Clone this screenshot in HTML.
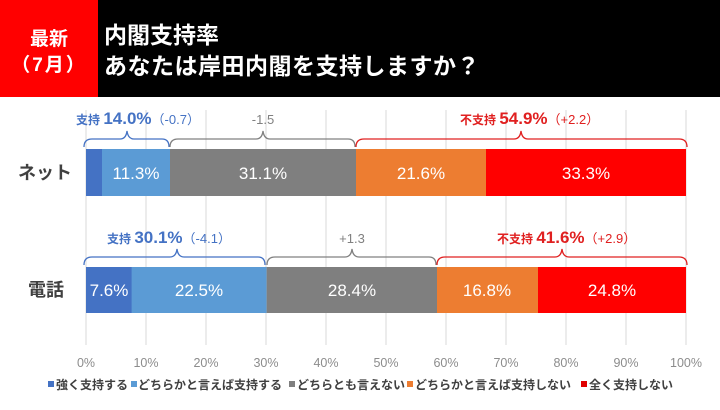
<!DOCTYPE html>
<html><head><meta charset="utf-8"><style>
body{margin:0;width:720px;height:405px;overflow:hidden;background:#fff;font-family:"Liberation Sans","Noto Sans CJK JP",sans-serif}
</style></head><body>
<svg width="720" height="405" xmlns="http://www.w3.org/2000/svg" font-family="Liberation Sans, Noto Sans CJK JP, sans-serif">
<rect x="0" y="0" width="720" height="97" fill="#000"/>
<rect x="0" y="0" width="98" height="97" fill="#f00"/>
<text x="49" y="45" fill="#fff" font-size="19" font-weight="bold" text-anchor="middle">最新</text>
<text x="49" y="71" fill="#fff" font-size="19" font-weight="bold" text-anchor="middle" letter-spacing="2">（7月）</text>
<text x="104" y="43" fill="#fff" font-size="23" font-weight="bold">内閣支持率</text>
<text x="104" y="74" fill="#fff" font-size="23" font-weight="bold" letter-spacing="0.5">あなたは岸田内閣を支持しますか？</text>
<g stroke="#d9d9d9" stroke-width="1">
<line x1="86" y1="110" x2="86" y2="345"/><line x1="146" y1="110" x2="146" y2="345"/><line x1="206" y1="110" x2="206" y2="345"/><line x1="266" y1="110" x2="266" y2="345"/><line x1="326" y1="110" x2="326" y2="345"/><line x1="386" y1="110" x2="386" y2="345"/><line x1="446" y1="110" x2="446" y2="345"/><line x1="506" y1="110" x2="506" y2="345"/><line x1="566" y1="110" x2="566" y2="345"/><line x1="626" y1="110" x2="626" y2="345"/><line x1="686" y1="110" x2="686" y2="345"/>
</g>
<rect x="86" y="149" width="16" height="47" fill="#4472c4"/>
<rect x="102" y="149" width="68" height="47" fill="#5b9bd5"/>
<rect x="170" y="149" width="186" height="47" fill="#7f7f7f"/>
<rect x="356" y="149" width="130" height="47" fill="#ed7d31"/>
<rect x="486" y="149" width="200" height="47" fill="#ff0000"/>
<g fill="#fff" font-size="17" text-anchor="middle">
<text x="136" y="179">11.3%</text><text x="263" y="179">31.1%</text><text x="421" y="179">21.6%</text><text x="586" y="179">33.3%</text>
</g>
<rect x="86" y="267" width="46" height="46" fill="#4472c4"/>
<rect x="131.6" y="267" width="135" height="46" fill="#5b9bd5"/>
<rect x="266.6" y="267" width="170.4" height="46" fill="#7f7f7f"/>
<rect x="437" y="267" width="101" height="46" fill="#ed7d31"/>
<rect x="538" y="267" width="148" height="46" fill="#ff0000"/>
<g fill="#fff" font-size="17" text-anchor="middle">
<text x="109" y="296">7.6%</text><text x="199" y="296">22.5%</text><text x="352" y="296">28.4%</text><text x="487" y="296">16.8%</text><text x="612" y="296">24.8%</text>
</g>
<text x="18" y="179" font-size="18" font-weight="bold" fill="#404040">ネット</text>
<text x="28" y="296" font-size="18" font-weight="bold" fill="#404040">電話</text>
<g fill="none" stroke-width="1.3">
<path stroke="#4472c4" d="M84,147 Q84,139 92,139 L120,139 Q126,139 127,131 Q128,139 134,139 L162,139 Q169,139 169,147"/>
<path stroke="#808080" d="M170,147 Q170,139 178,139 L256,139 Q262,139 263,131 Q264,139 270,139 L348,139 Q355,139 355,147"/>
<path stroke="#e02020" d="M356,147 Q356,139 364,139 L514,139 Q520,139 521,131 Q522,139 528,139 L679,139 Q687,139 687,147"/>
<path stroke="#4472c4" d="M84,265 Q84,257 92,257 L170,257 Q176,257 177,249 Q178,257 184,257 L258,257 Q265,257 265,265"/>
<path stroke="#808080" d="M267,265 Q267,257 275,257 L345,257 Q351,257 352,249 Q353,257 359,257 L429,257 Q436,257 436,265"/>
<path stroke="#e02020" d="M437,265 Q437,257 445,257 L555,257 Q561,257 562,249 Q563,257 569,257 L679,257 Q687,257 687,265"/>
</g>
<g font-size="12">
<text x="76" y="124" fill="#4472c4" font-weight="bold">支持 <tspan font-size="17">14.0%</tspan><tspan font-weight="normal" font-size="13">（-0.7）</tspan></text>
<text x="263" y="124" fill="#808080" text-anchor="middle" font-size="13">-1.5</text>
<text x="460" y="124" fill="#e02020" font-weight="bold">不支持 <tspan font-size="17">54.9%</tspan><tspan font-weight="normal" font-size="13">（+2.2）</tspan></text>
<text x="107" y="243" fill="#4472c4" font-weight="bold">支持 <tspan font-size="17">30.1%</tspan><tspan font-weight="normal" font-size="13">（-4.1）</tspan></text>
<text x="352" y="243" fill="#808080" text-anchor="middle" font-size="13">+1.3</text>
<text x="497" y="243" fill="#e02020" font-weight="bold">不支持 <tspan font-size="17">41.6%</tspan><tspan font-weight="normal" font-size="13">（+2.9）</tspan></text>
</g>
<g font-size="12.5" fill="#8c8c8c" text-anchor="middle">
<text x="86" y="367">0%</text><text x="146" y="367">10%</text><text x="206" y="367">20%</text><text x="266" y="367">30%</text><text x="326" y="367">40%</text><text x="386" y="367">50%</text><text x="446" y="367">60%</text><text x="506" y="367">70%</text><text x="566" y="367">80%</text><text x="626" y="367">90%</text><text x="686" y="367">100%</text>
</g>
<g font-size="12" fill="#404040" font-weight="bold">
<rect x="48" y="381" width="6" height="6" fill="#4472c4"/><text x="56" y="389">強く支持する</text>
<rect x="131" y="381" width="6" height="6" fill="#5b9bd5"/><text x="138" y="389">どちらかと言えば支持する</text>
<rect x="289" y="381" width="6" height="6" fill="#7f7f7f"/><text x="297" y="389">どちらとも言えない</text>
<rect x="407" y="381" width="6" height="6" fill="#ed7d31"/><text x="415" y="389">どちらかと言えば支持しない</text>
<rect x="581" y="381" width="6" height="6" fill="#e00000"/><text x="589" y="389">全く支持しない</text>
</g>
</svg>
</body></html>
